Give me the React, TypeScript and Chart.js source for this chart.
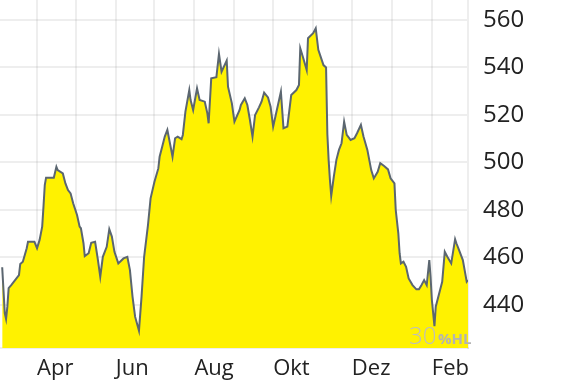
import React, { useEffect, useRef } from 'react';
import { Chart, registerables } from 'chart.js';

Chart.register(...registerables);

// day offsets counted from 1 March
const days = [4, 6, 7, 8, 9, 11, 14, 17, 18, 20, 23, 24, 29, 31, 33, 35, 36, 37, 38, 44, 46, 47, 51, 53, 55, 57, 59, 62, 64, 65, 67, 68, 71, 73, 76, 78, 80, 82, 85, 87, 89, 91, 94, 98, 101, 103, 105, 107, 110, 112, 114, 117, 119, 122, 125, 126, 128, 130, 132, 135, 136, 138, 140, 143, 144, 146, 149, 150, 152, 155, 157, 161, 163, 164, 166, 170, 172, 174, 178, 179, 182, 184, 188, 189, 192, 194, 196, 198, 200, 203, 205, 207, 210, 212, 214, 216, 220, 222, 225, 228, 232, 234, 235, 237, 240, 241, 245, 247, 249, 253, 255, 256, 257, 258, 259, 261, 263, 265, 267, 269, 271, 274, 277, 279, 282, 284, 287, 290, 292, 295, 297, 300, 303, 305, 308, 309, 311, 312, 313, 315, 317, 319, 322, 325, 327, 329, 331, 333, 335, 336, 337, 339, 340, 343, 345, 347, 349, 352, 355, 356, 358, 361, 364, 365];
const prices = [455.9, 436.6, 434.1, 439.3, 447.1, 448.4, 450.5, 452.6, 457.3, 458.2, 463.9, 466.6, 466.6, 463.9, 467.4, 473.0, 481.4, 490.5, 493.6, 493.6, 498.2, 496.8, 495.4, 491.2, 488.4, 487.0, 482.8, 477.9, 473.0, 472.3, 466.0, 460.6, 461.8, 466.2, 466.6, 459.6, 451.9, 460.3, 464.5, 471.9, 468.8, 462.4, 457.5, 459.6, 460.3, 454.7, 443.5, 435.1, 429.2, 443.5, 460.3, 473.7, 484.9, 491.9, 497.5, 502.4, 506.6, 510.9, 513.7, 505.3, 502.4, 510.2, 510.9, 509.8, 511.6, 521.4, 530.5, 526.3, 522.1, 531.2, 526.3, 525.6, 520.7, 516.5, 535.4, 535.9, 545.7, 538.2, 542.9, 531.9, 524.9, 517.2, 522.1, 524.2, 527.0, 524.2, 517.9, 510.9, 520.0, 523.2, 525.6, 529.4, 527.4, 523.5, 515.1, 520.0, 529.8, 514.4, 515.1, 528.4, 530.5, 532.6, 548.1, 544.5, 538.9, 552.3, 554.4, 556.5, 547.4, 541.0, 540.0, 512.0, 501.0, 492.6, 485.9, 494.0, 501.1, 505.3, 508.1, 517.2, 511.6, 509.5, 510.2, 512.3, 515.8, 510.9, 505.3, 496.8, 493.3, 496.1, 499.7, 498.5, 497.1, 493.3, 491.2, 480.0, 470.2, 461.8, 457.5, 458.2, 456.1, 451.2, 448.4, 446.6, 446.6, 448.4, 450.5, 448.4, 458.9, 451.9, 442.1, 431.1, 439.3, 445.6, 449.8, 462.4, 460.3, 457.5, 467.7, 466.0, 463.2, 458.9, 449.8, 450.5];

const monthStarts = [31, 61, 92, 122, 153, 184, 214, 245, 275, 306, 337];
const monthLabels = ['Apr', '', 'Jun', '', 'Aug', '', 'Okt', '', 'Dez', '', 'Feb'];
const priceTicks = [440, 460, 480, 500, 520, 540, 560];
const badgeNumber = '30';
const badgeUnit = '%HL';

const GRID = 'rgba(0,0,0,0.065)';
const FONT = "'Open Sans', sans-serif";

export default function App() {
  const ref = useRef<HTMLCanvasElement>(null);

  useEffect(() => {
    const badge = {
      id: 'badge',
      afterDatasetsDraw(chart: any) {
        const { ctx, chartArea } = chart;
        ctx.save();
        ctx.textBaseline = 'alphabetic';
        ctx.textAlign = 'left';
        ctx.fillStyle = '#bdbdbd';
        ctx.font = `300 24px ${FONT}`;
        ctx.fillText(badgeNumber, chartArea.right - 59, chartArea.bottom - 4);
        ctx.fillStyle = '#b3b3b3';
        ctx.font = `bold 15px ${FONT}`;
        ctx.fillText(badgeUnit, chartArea.right - 30, chartArea.bottom - 4);
        ctx.restore();
      },
    };

    const chart = new Chart(ref.current as HTMLCanvasElement, {
      type: 'line',
      data: {
        datasets: [
          {
            data: days.map((d, i) => ({ x: d, y: prices[i] })),
            borderColor: '#5b6670',
            borderWidth: 2,
            backgroundColor: '#fff200',
            fill: 'start',
            pointRadius: 0,
            tension: 0,
          },
        ],
      },
      options: {
        animation: false,
        responsive: false,
        devicePixelRatio: 1,
        layout: { padding: 0 },
        plugins: { legend: { display: false }, tooltip: { enabled: false } },
        scales: {
          x: {
            type: 'linear',
            min: 2.3,
            max: 365,
            z: 1,
            afterBuildTicks: (s: any) => {
              s.ticks = monthStarts.map((v) => ({ value: v }));
            },
            afterFit: (s: any) => {
              s.height = 34;
              s.paddingLeft = 0;
              s.paddingRight = 0;
            },
            grid: { color: GRID, lineWidth: 2, drawTicks: false },
            border: { color: GRID, width: 2 },
            ticks: {
              autoSkip: false,
              maxRotation: 0,
              minRotation: 0,
              align: 'start',
              padding: 8,
              color: '#222',
              font: { family: FONT, size: 22 },
              callback: (_v: any, i: number) => monthLabels[i],
            },
          },
          y: {
            position: 'right',
            min: 421.9,
            max: 568.4,
            z: 1,
            afterBuildTicks: (s: any) => {
              s.ticks = priceTicks.map((v) => ({ value: v }));
            },
            afterFit: (s: any) => {
              s.width = 102;
              s.paddingTop = 0;
              s.paddingBottom = 0;
            },
            grid: { color: GRID, lineWidth: 2, drawTicks: false },
            border: { color: GRID, width: 2 },
            ticks: {
              padding: 15,
              color: '#222',
              font: { family: FONT, size: 24 },
              callback: (v: any) => String(v),
            },
          },
        },
      },
      plugins: [badge],
    } as any);

    return () => chart.destroy();
  }, []);

  return (
    <div style={{ position: 'absolute', left: 0, top: 0, width: 570, height: 382 }}>
      <canvas ref={ref} width={570} height={382} style={{ display: 'block' }} />
    </div>
  );
}
